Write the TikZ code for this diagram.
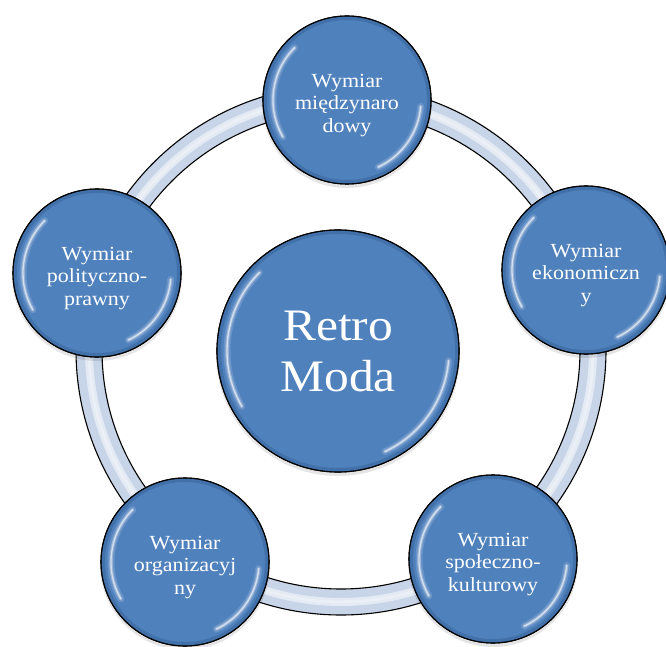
\documentclass[tikz,border=0pt]{standalone}
\usepackage{fontspec}
\setmainfont{Liberation Serif}[FakeStretch=1.1]
\definecolor{ballblue}{HTML}{4F81BD}
\definecolor{balledge}{HTML}{3A679E}
\definecolor{ringfill}{HTML}{C8D5E8}
\tikzset{
  ball/.style={circle, draw=black, line width=1.1pt, inner sep=0pt, align=center,
    text=white, fill=ballblue},
  smallball/.style={ball, minimum size=168pt, font=\fontsize{20}{22.5}\selectfont},
  bigball/.style={ball, minimum size=242pt, font=\fontsize{45}{51}\selectfont},
  glosswide/.style={white, opacity=0.15, line width=7pt, line cap=round},
  glossmid/.style={white, opacity=0.3, line width=3.5pt, line cap=round},
  glossthin/.style={white, opacity=0.6, line width=1.3pt, line cap=round},
  rimdark/.style={balledge, opacity=0.6, line width=4pt},
  shadowball/.style={fill=black, opacity=0.10}
}
\newcommand{\glossy}[3]{%
  \draw[rimdark] (#1.center) circle[radius=#3];
  \foreach \gs in {glosswide,glossmid,glossthin}{%
    \draw[\gs] ([shift={(135:#2)}]#1.center) arc[start angle=135, end angle=210, radius=#2];
    \draw[\gs] ([shift={(295:#2)}]#1.center) arc[start angle=295, end angle=355, radius=#2];
  }%
  \draw[black, line width=1.1pt] (#1.center) circle[radius=#3+2];
}
\newcommand{\lowr}{\rule{0pt}{24pt}}
\begin{document}
\begin{tikzpicture}[x=1pt,y=1pt]
\useasboundingbox (0,0) rectangle (666,646);
% ring
\coordinate (rc) at (341,296);
\fill[ringfill, even odd rule] (rc) circle[radius=265] (rc) circle[radius=239];
\draw[white, opacity=0.5, line width=8pt] (rc) circle[radius=252];
\draw[white, opacity=0.3, line width=3pt] (rc) circle[radius=252];
\draw[black, line width=1.1pt] (rc) circle[radius=265];
\draw[black, line width=1.1pt] (rc) circle[radius=239];
% shadows
\foreach \p in {(347,543),(586,373),(493,84),(185,81),(97,370)}
  \fill[shadowball] \p circle[radius=85];
\fill[shadowball] (338,292) circle[radius=122];
% balls
\node[bigball] (c) at (338,295) {Retro\\Moda};
\node[smallball] (t) at (347,546) {\lowr Wymiar\\międzynaro\\dowy};
\node[smallball] (r) at (586,376) {\lowr Wymiar\\ekonomiczn\\y};
\node[smallball] (br) at (493,87) {\lowr Wymiar\\społeczno-\\kulturowy};
\node[smallball] (bl) at (185,84) {\lowr Wymiar\\organizacyj\\ny};
\node[smallball] (l) at (97,373) {\lowr Wymiar\\polityczno-\\prawny};
\glossy{c}{111}{119}
\glossy{t}{74}{82}
\glossy{r}{74}{82}
\glossy{br}{74}{82}
\glossy{bl}{74}{82}
\glossy{l}{74}{82}
\end{tikzpicture}
\end{document}
